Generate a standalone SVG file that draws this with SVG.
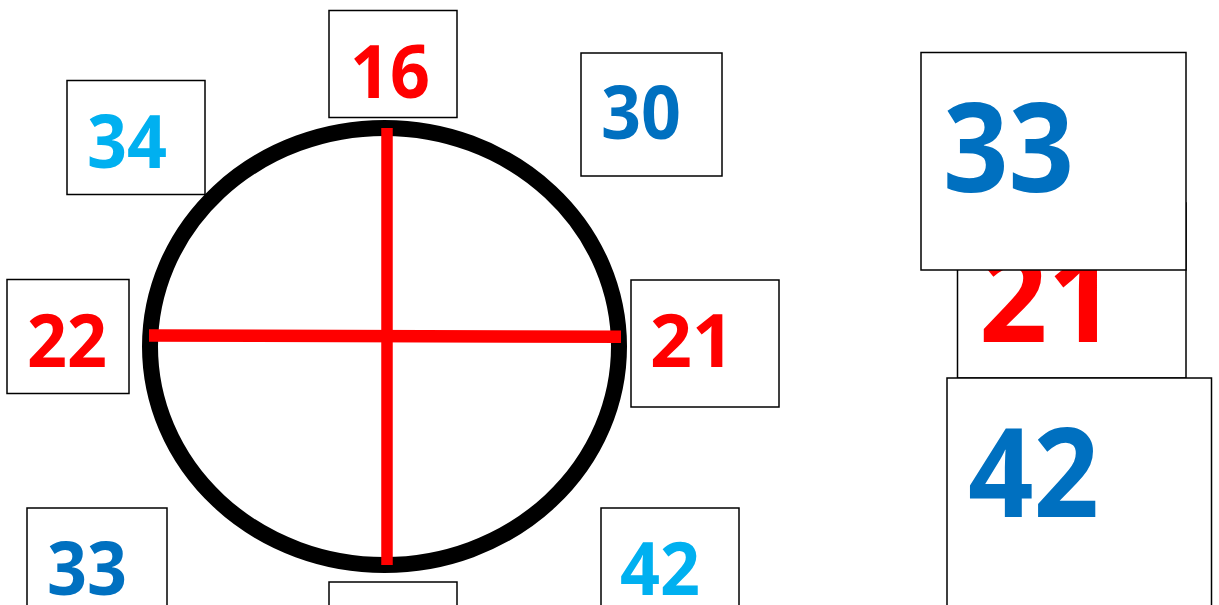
<svg xmlns="http://www.w3.org/2000/svg" width="1219" height="605" viewBox="0 0 1219 605">
<style>
.box{fill:#fff;stroke:#000;stroke-width:1.5}
.t{font-family:"Open Sans","Noto Sans","Liberation Sans",sans-serif;font-weight:bold}
.s{font-size:73px}
.b{font-size:123px}
.red{fill:#ff0000}
.dk{fill:#0070c0}
.lt{fill:#00b0f0}
</style>
<rect width="1219" height="605" fill="#fff"/>
<g id="n16"><rect class="box" x="329" y="10.5" width="128" height="107"/><text class="t s red" x="350" y="98" textLength="80" lengthAdjust="spacingAndGlyphs">16</text></g>
<g id="n34"><rect class="box" x="67" y="80.5" width="138" height="114"/><text class="t s lt" x="87" y="168" textLength="80" lengthAdjust="spacingAndGlyphs">34</text></g>
<g id="n30"><rect class="box" x="581" y="53" width="141" height="123"/><text class="t s dk" x="601" y="139" textLength="80" lengthAdjust="spacingAndGlyphs">30</text></g>
<g id="n22"><rect class="box" x="7" y="279.5" width="122" height="114"/><text class="t s red" x="27" y="367" textLength="80" lengthAdjust="spacingAndGlyphs">22</text></g>
<g id="n21"><rect class="box" x="631" y="280" width="148" height="127"/><text class="t s red" x="650" y="367" textLength="84" lengthAdjust="spacingAndGlyphs">21</text></g>
<g id="n33"><rect class="box" x="27" y="508" width="140" height="110"/><text class="t s dk" x="47" y="595" textLength="80" lengthAdjust="spacingAndGlyphs">33</text></g>
<g id="n42"><rect class="box" x="601" y="508" width="138" height="110"/><text class="t s lt" x="620" y="595" textLength="80" lengthAdjust="spacingAndGlyphs">42</text></g>
<g id="nbottom"><rect class="box" x="329" y="582" width="128" height="40"/></g>
<g id="circle"><ellipse cx="384.5" cy="346.5" rx="234.5" ry="218.5" fill="none" stroke="#000" stroke-width="16"/></g>
<g id="connectors">
<line x1="387" y1="128" x2="387" y2="565" stroke="#ff0000" stroke-width="11.5"/>
<line x1="149" y1="335.5" x2="621" y2="336.8" stroke="#ff0000" stroke-width="12.5"/>
</g>
<g id="r21"><rect class="box" x="957.5" y="203" width="228.5" height="175"/><text class="t b red" x="979" y="342" textLength="137" lengthAdjust="spacingAndGlyphs">21</text></g>
<g id="r33"><rect class="box" x="921" y="52.5" width="265" height="217.5"/><text class="t b dk" x="943" y="192" textLength="131" lengthAdjust="spacingAndGlyphs">33</text></g>
<g id="r42"><rect class="box" x="947" y="378" width="264.5" height="260"/><text class="t b dk" x="968" y="517" textLength="131" lengthAdjust="spacingAndGlyphs">42</text></g>
</svg>
